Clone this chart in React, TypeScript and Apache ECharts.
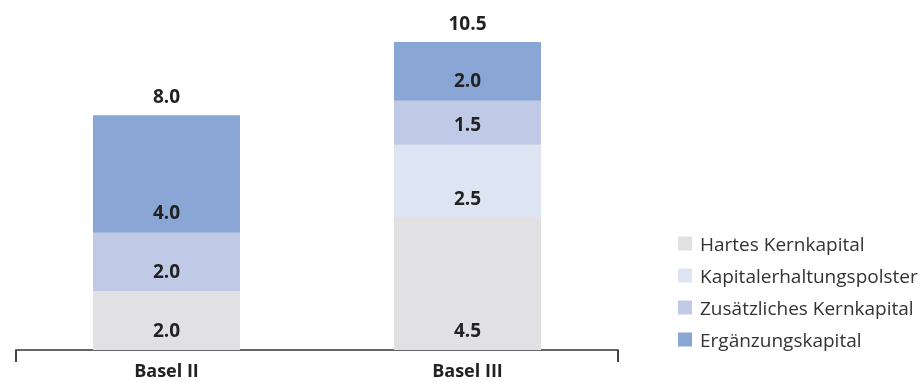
import React, { useEffect, useRef } from "react";
import * as echarts from "echarts";

const categories = ["Basel II", "Basel III"];
const seriesNames = [
  "Hartes Kernkapital",
  "Kapitalerhaltungspolster",
  "Zusätzliches Kernkapital",
  "Ergänzungskapital",
];
const hartesKernkapital = [2.0, 4.5];
const kapitalerhaltungspolster = [null, 2.5];
const zusaetzlichesKernkapital = [2.0, 1.5];
const ergaenzungskapital = [4.0, 2.0];
const totals = [8.0, 10.5];
const colors = ["#e1e1e3", "#dde5f2", "#c0cae6", "#8aa6d4"];

const FONT = "'Open Sans', 'Noto Sans', sans-serif";

export default function App() {
  const ref = useRef<HTMLDivElement>(null);
  useEffect(() => {
    if (!ref.current) return;
    const chart = echarts.init(ref.current, undefined, { renderer: "svg" });
    const valueSets = [
      hartesKernkapital,
      kapitalerhaltungspolster,
      zusaetzlichesKernkapital,
      ergaenzungskapital,
    ];
    const barSeries = valueSets.map((vals, i) => ({
      name: seriesNames[i],
      type: "bar",
      stack: "total",
      barWidth: 147,
      data: vals,
      itemStyle: { color: colors[i] },
      label: {
        show: true,
        position: "insideBottom",
        distance: 11,
        formatter: (p: any) => (p.value == null ? "" : Number(p.value).toFixed(1)),
        color: "#222",
        fontWeight: "bold",
        fontSize: 19,
        fontFamily: FONT,
      },
    }));
    chart.setOption({
      animation: false,
      textStyle: { fontFamily: FONT },
      grid: { left: 16, right: 306, top: 42, bottom: 32, containLabel: false },
      legend: {
        orient: "vertical",
        left: 673,
        top: 229,
        itemWidth: 14,
        itemHeight: 14,
        itemGap: 13,
        icon: "rect",
        data: seriesNames,
        textStyle: { fontSize: 19, color: "#333", fontFamily: FONT, padding: [0, 0, 0, 3] },
      },
      xAxis: {
        type: "category",
        data: categories,
        axisLine: { lineStyle: { color: "#666", width: 2 } },
        axisTick: {
          show: true,
          length: 12,
          lineStyle: { color: "#444", width: 2 },
          interval: (i: number) => i === 0,
        },
        axisLabel: {
          margin: 11,
          fontSize: 18,
          fontWeight: "bold",
          color: "#222",
          fontFamily: FONT,
        },
      },
      yAxis: {
        type: "value",
        min: 0,
        max: 10.5,
        show: false,
        splitLine: { show: false },
      },
      series: [
        ...barSeries,
        {
          name: "Gesamt",
          type: "bar",
          stack: "total",
          barWidth: 147,
          data: totals.map(() => 0),
          itemStyle: { color: "transparent" },
          label: {
            show: true,
            position: "top",
            distance: 10,
            formatter: (p: any) => totals[p.dataIndex].toFixed(1),
            color: "#222",
            fontWeight: "bold",
            fontSize: 19,
            fontFamily: FONT,
          },
        },
      ],
    });
    return () => chart.dispose();
  }, []);
  return (
    <div
      ref={ref}
      style={{ position: "fixed", left: 0, top: 0, width: 924, height: 382 }}
    />
  );
}
